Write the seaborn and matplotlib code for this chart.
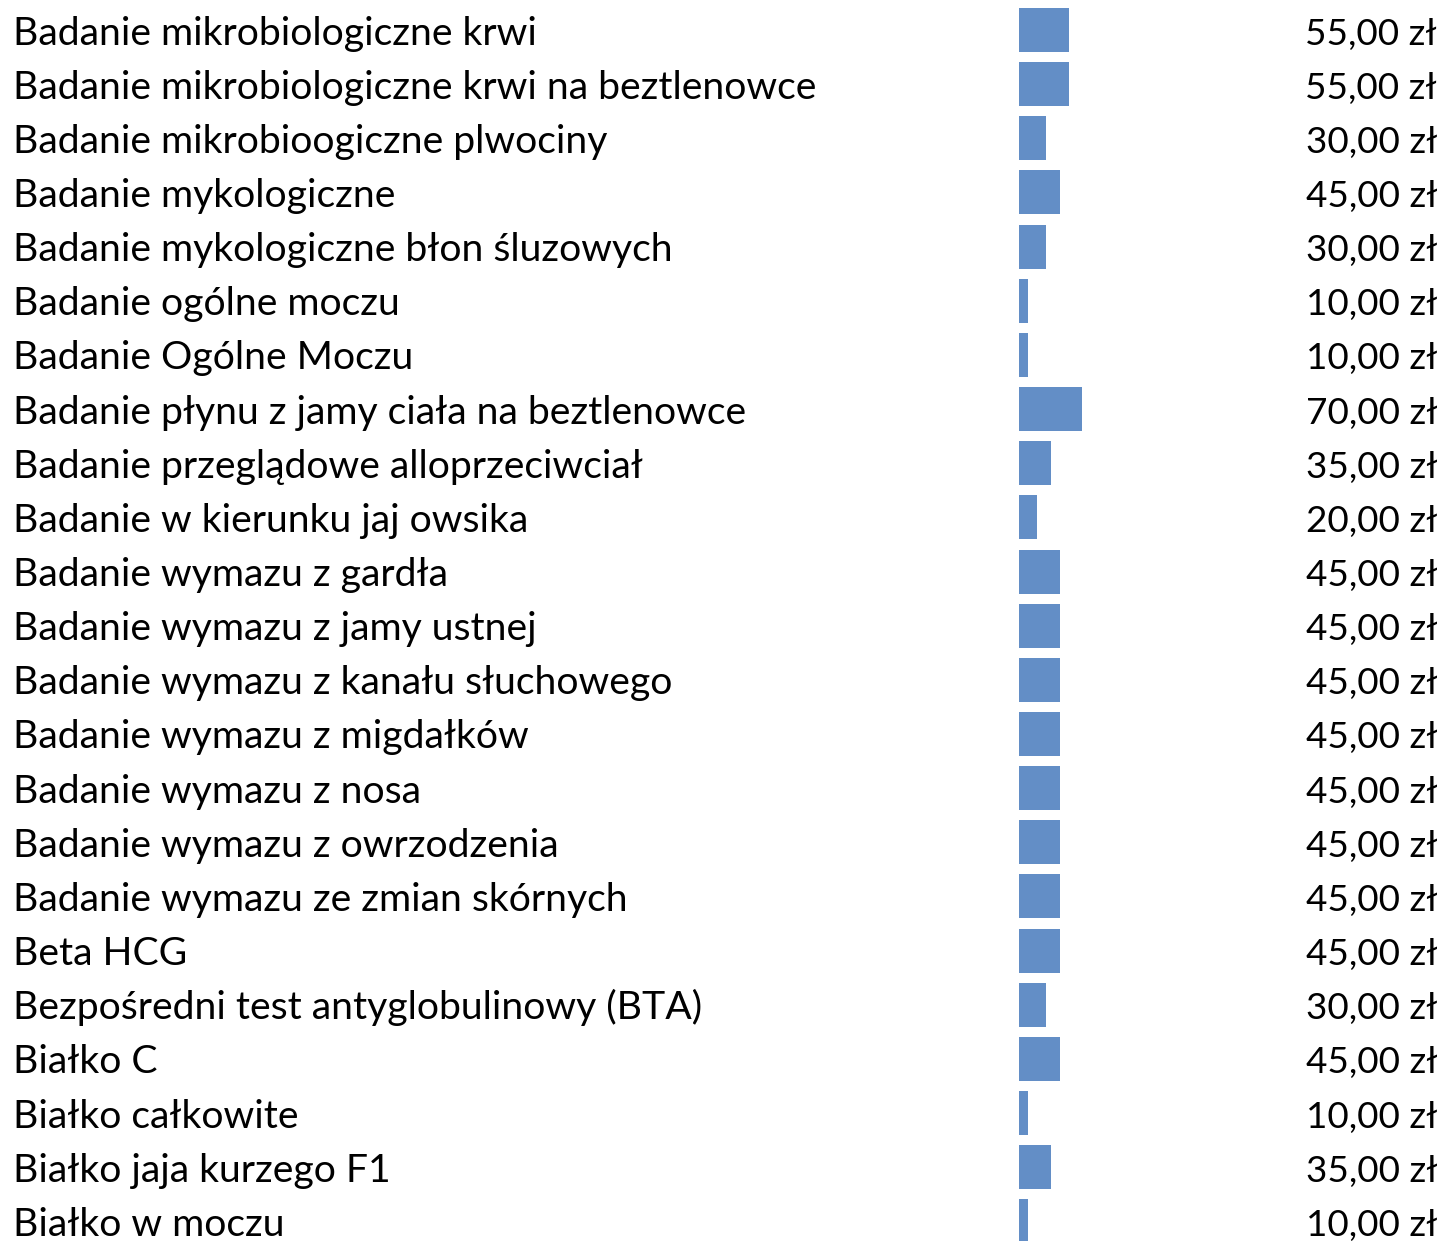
import matplotlib
matplotlib.use("Agg")
import matplotlib.pyplot as plt
import matplotlib.transforms as mtransforms
import seaborn as sns
import pandas as pd

labels = [
    "Badanie mikrobiologiczne krwi",
    "Badanie mikrobiologiczne krwi na beztlenowce",
    "Badanie mikrobioogiczne plwociny",
    "Badanie mykologiczne",
    "Badanie mykologiczne błon śluzowych",
    "Badanie ogólne moczu",
    "Badanie Ogólne Moczu",
    "Badanie płynu z jamy ciała na beztlenowce",
    "Badanie przeglądowe alloprzeciwciał",
    "Badanie w kierunku jaj owsika",
    "Badanie wymazu z gardła",
    "Badanie wymazu z jamy ustnej",
    "Badanie wymazu z kanału słuchowego",
    "Badanie wymazu z migdałków",
    "Badanie wymazu z nosa",
    "Badanie wymazu z owrzodzenia",
    "Badanie wymazu ze zmian skórnych",
    "Beta HCG",
    "Bezpośredni test antyglobulinowy (BTA)",
    "Białko C",
    "Białko całkowite",
    "Białko jaja kurzego F1",
    "Białko w moczu",
]
prices = [55, 55, 30, 45, 30, 10, 10, 70, 35, 20, 45, 45, 45, 45, 45, 45, 45, 45, 30, 45, 10, 35, 10]

df = pd.DataFrame({"label": labels, "price": prices, "row": [str(i) for i in range(len(labels))]})

W, H = 1445, 1241
fig = plt.figure(figsize=(W / 100, H / 100), dpi=100)
ax = fig.add_axes([0, 0, 1, 1])

pitch = 54.15
y0 = 30.0
sns.barplot(data=df, x="price", y="row", orient="h", color="#638EC6",
            width=44 / pitch, saturation=1, ax=ax, edgecolor="none", linewidth=0)

px_per_unit = 0.9
x0 = 1019
ax.set_xlim(-x0 / px_per_unit, (W - x0) / px_per_unit)
ax.set_ylim((H - y0) / pitch, -y0 / pitch)
ax.axis("off")

font = ["Lato", "DejaVu Sans"]
trans = mtransforms.blended_transform_factory(ax.transAxes, ax.transData)
for i, (lab, p) in enumerate(zip(labels, prices)):
    yb = i + 14.5 / pitch
    ax.text(13 / W, yb, lab, transform=trans, ha="left", va="baseline",
            fontsize=28.2, family=font, color="black")
    ax.text(1437 / W, yb, f"{p:.2f}".replace(".", ",") + " zł", transform=trans,
            ha="right", va="baseline", fontsize=26.6, family=font, color="black")

fig.savefig("out.png", dpi=100)
